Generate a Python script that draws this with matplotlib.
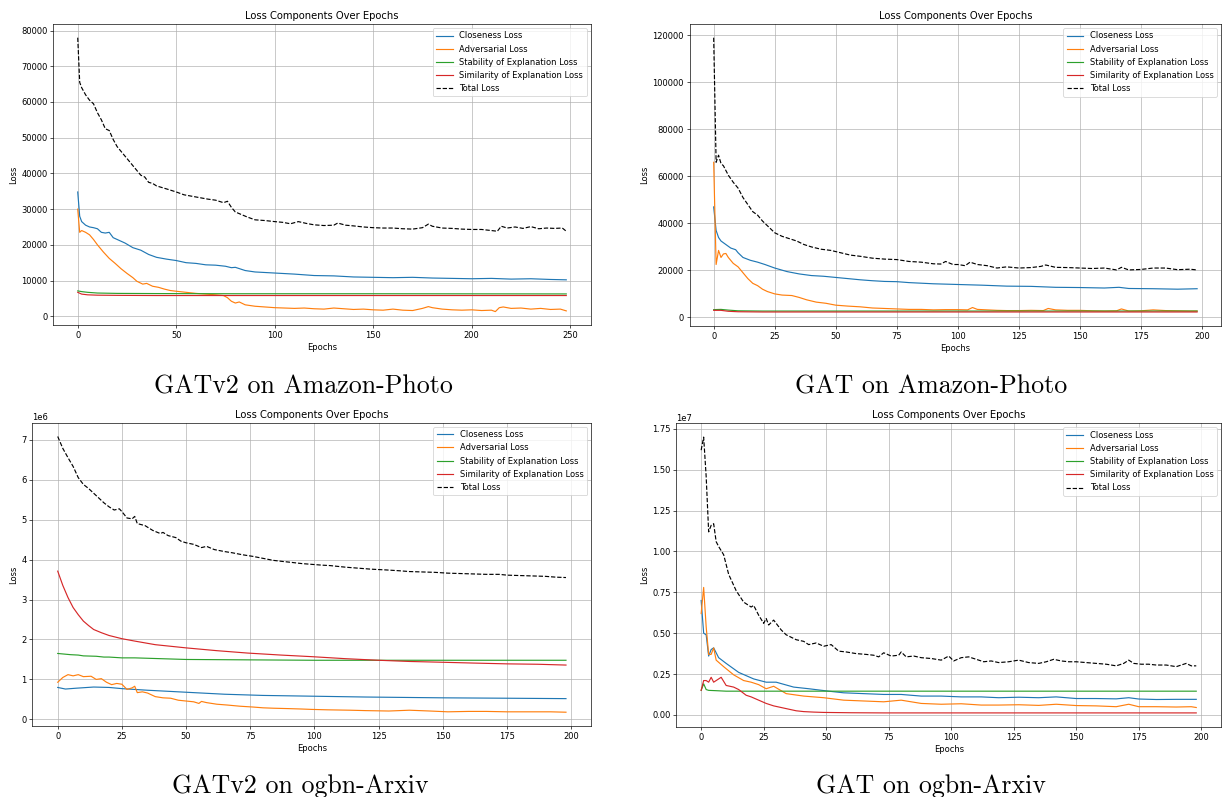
import numpy as np
import matplotlib
matplotlib.use('Agg')
import matplotlib.pyplot as plt

# ---- GATv2 on Amazon-Photo ----
p1_total_ep = [0, 1, 2, 4, 6, 8, 10, 12, 14, 16, 18, 20, 23, 26, 29, 32, 34, 36, 38, 40, 43, 46, 50, 54, 58, 62, 66, 70,
               74, 76, 78, 80, 83, 86, 90, 95, 100, 104, 108, 112, 116, 120, 125, 130, 132, 136, 140, 145, 150, 155, 160,
               165, 170, 175, 178, 180, 185, 190, 195, 200, 205, 210, 213, 215, 218, 222, 226, 230, 234, 238, 242, 246, 248]
p1_total = [78000, 65500, 64000, 62000, 60500, 59500, 57000, 55000, 52500, 52000, 49500, 47500, 45500, 43500, 41500,
            39500, 39000, 37500, 37200, 36500, 36000, 35500, 34800, 34000, 33600, 33200, 32800, 32500, 31800, 32200,
            30500, 29200, 28500, 27800, 27000, 26800, 26500, 26300, 25900, 26500, 26000, 25600, 25400, 25500, 26100,
            25500, 25300, 25000, 24800, 24700, 24700, 24500, 24400, 24800, 25800, 25200, 24700, 24600, 24400, 24300,
            24300, 24000, 23800, 25200, 24700, 25000, 24600, 25100, 24500, 24700, 24600, 24700, 23800]
p1_close_ep = [0, 1, 2, 4, 6, 8, 10, 12, 14, 16, 18, 20, 24, 28, 32, 36, 40, 45, 50, 55, 60, 65, 70, 75, 78, 80, 85, 90,
               100, 110, 120, 130, 140, 150, 160, 170, 180, 190, 200, 210, 220, 230, 240, 248]
p1_close = [34800, 28000, 26500, 25500, 25000, 24800, 24500, 23500, 23300, 23500, 22000, 21500, 20500, 19200, 18500,
            17300, 16500, 16000, 15600, 15000, 14800, 14400, 14300, 14000, 13600, 13700, 12800, 12400, 12100, 11800,
            11400, 11300, 11000, 10900, 10800, 10900, 10700, 10600, 10500, 10600, 10400, 10500, 10300, 10200]
p1_adv_ep = [0, 1, 2, 4, 6, 8, 10, 13, 16, 19, 22, 25, 28, 30, 33, 35, 38, 41, 44, 47, 50, 55, 60, 65, 70, 74, 76, 78,
             80, 82, 85, 90, 95, 100, 105, 110, 115, 120, 125, 130, 135, 140, 145, 150, 155, 160, 165, 170, 175, 178,
             180, 185, 190, 195, 200, 205, 210, 212, 214, 216, 220, 225, 230, 235, 240, 245, 248]
p1_adv = [30000, 23500, 24000, 23500, 22800, 21500, 20000, 18000, 16200, 14800, 13300, 12000, 10800, 9800, 9000, 9200,
          8400, 8100, 7600, 7200, 7000, 6700, 6400, 6200, 6000, 5800, 5200, 4200, 3700, 4000, 3200, 2800, 2600, 2400,
          2300, 2200, 2300, 2100, 2000, 2300, 2100, 1900, 2000, 1800, 1700, 2000, 1700, 1600, 2200, 2700, 2400, 2000,
          1800, 1700, 1800, 1600, 1700, 1300, 2400, 2600, 2200, 2300, 2000, 2200, 1900, 2000, 1500]
p1_stab_ep = [0, 2, 5, 10, 20, 40, 80, 150, 248]
p1_stab = [7100, 6900, 6700, 6500, 6400, 6350, 6300, 6300, 6250]
p1_sim_ep = [0, 2, 5, 10, 20, 40, 80, 150, 248]
p1_sim = [6700, 6200, 6000, 5900, 5850, 5800, 5800, 5800, 5800]

# ---- GAT on Amazon-Photo ----
p2_total_ep = [0, 1, 2, 3, 4, 6, 8, 10, 12, 14, 16, 18, 20, 22, 25, 28, 31, 34, 37, 40, 44, 48, 52, 56, 60, 65, 70, 75,
               80, 85, 90, 93, 95, 98, 100, 103, 105, 108, 112, 116, 120, 125, 130, 134, 136, 140, 145, 150, 155, 160,
               165, 167, 170, 175, 180, 185, 190, 195, 198]
p2_total = [119000, 66000, 69000, 65500, 64500, 60500, 57500, 55000, 51000, 48000, 45000, 43500, 41000, 39000, 36000,
            34500, 33500, 32500, 31000, 30000, 29000, 28500, 27500, 26500, 26000, 25200, 24800, 24600, 23800, 23500,
            22800, 22700, 23800, 22500, 22500, 22000, 23500, 22500, 22000, 21000, 21500, 21000, 21200, 21700, 22300,
            21300, 21200, 21000, 20800, 21000, 20200, 21300, 20200, 20400, 21000, 21000, 20300, 20500, 20200]
p2_close_ep = [0, 1, 2, 3, 5, 7, 9, 10, 12, 15, 18, 21, 25, 30, 35, 40, 45, 50, 55, 60, 65, 70, 75, 80, 90, 100, 110,
               120, 130, 140, 150, 160, 166, 170, 180, 190, 198]
p2_close = [47000, 37000, 34000, 32500, 31000, 29500, 28800, 27500, 25500, 24300, 23500, 22500, 21000, 19500, 18500,
            17800, 17500, 17000, 16500, 16000, 15600, 15300, 15200, 14800, 14300, 14000, 13700, 13300, 13200, 12800,
            12700, 12500, 12800, 12300, 12200, 12000, 12200]
p2_adv_ep = [0, 1, 2, 3, 4, 5, 6, 8, 10, 12, 14, 16, 18, 20, 22, 25, 28, 32, 35, 38, 42, 46, 50, 55, 60, 65, 70, 75, 80,
             85, 90, 95, 100, 104, 106, 108, 112, 116, 120, 125, 130, 135, 137, 140, 145, 150, 155, 160, 165, 167, 170,
             175, 180, 185, 190, 195, 198]
p2_adv = [66000, 22500, 28500, 25500, 27000, 27200, 25500, 23000, 21500, 19000, 16500, 14500, 13500, 12000, 11000,
          10000, 9500, 9300, 8500, 7500, 6500, 6000, 5200, 4800, 4500, 4000, 3800, 3600, 3400, 3400, 3200, 3300, 3300,
          3200, 4200, 3400, 3200, 3000, 2900, 2900, 3000, 2900, 3800, 3200, 3000, 3000, 2800, 2700, 2800, 3600, 2700,
          2800, 3200, 2900, 2800, 2700, 2700]
p2_stab_ep = [0, 3, 6, 10, 20, 50, 100, 198]
p2_stab = [3300, 3400, 3100, 2800, 2700, 2700, 2700, 2700]
p2_sim_ep = [0, 3, 6, 10, 20, 50, 100, 198]
p2_sim = [3000, 3000, 2600, 2400, 2300, 2300, 2300, 2300]

# ---- GATv2 on ogbn-Arxiv (millions) ----
p3_total_ep = [0, 2, 4, 6, 8, 10, 12, 15, 18, 20, 22, 24, 25, 27, 29, 30, 31, 34, 37, 40, 41, 43, 46, 48, 50, 53, 56,
               58, 61, 65, 68, 72, 76, 80, 84, 88, 91, 95, 99, 103, 106, 112, 118, 122, 128, 133, 137, 142, 147, 152,
               157, 162, 167, 172, 175, 180, 185, 190, 194, 198]
p3_total = [7.08, 6.78, 6.55, 6.33, 6.05, 5.88, 5.78, 5.6, 5.42, 5.32, 5.24, 5.27, 5.2, 5.04, 5.02, 5.08, 4.9, 4.85,
            4.73, 4.65, 4.68, 4.6, 4.55, 4.46, 4.42, 4.38, 4.3, 4.33, 4.25, 4.2, 4.17, 4.12, 4.08, 4.03, 3.98, 3.95,
            3.93, 3.9, 3.88, 3.86, 3.85, 3.81, 3.78, 3.76, 3.74, 3.72, 3.70, 3.69, 3.68, 3.66, 3.65, 3.64, 3.63, 3.63,
            3.61, 3.6, 3.59, 3.58, 3.56, 3.55]
p3_close_ep = [0, 3, 7, 14, 20, 25, 35, 50, 65, 80, 100, 120, 150, 175, 198]
p3_close = [0.8, 0.76, 0.78, 0.81, 0.8, 0.77, 0.73, 0.68, 0.63, 0.6, 0.58, 0.56, 0.54, 0.53, 0.52]
p3_adv_ep = [0, 2, 4, 6, 8, 10, 13, 15, 17, 19, 21, 23, 25, 27, 29, 30, 31, 33, 35, 38, 41, 44, 47, 50, 53, 55, 56, 58,
             62, 66, 71, 76, 80, 84, 90, 95, 99, 105, 114, 120, 129, 137, 145, 152, 160, 167, 175, 185, 192, 198]
p3_adv = [0.93, 1.05, 1.12, 1.09, 1.12, 1.07, 1.08, 1.0, 1.02, 0.93, 0.87, 0.9, 0.88, 0.75, 0.79, 0.83, 0.67, 0.69,
          0.66, 0.57, 0.54, 0.53, 0.48, 0.46, 0.44, 0.4, 0.45, 0.42, 0.38, 0.36, 0.33, 0.31, 0.29, 0.28, 0.27, 0.26,
          0.25, 0.24, 0.23, 0.22, 0.21, 0.23, 0.21, 0.19, 0.2, 0.2, 0.19, 0.19, 0.19, 0.18]
p3_stab_ep = [0, 5, 8, 10, 15, 18, 20, 25, 30, 40, 50, 75, 100, 150, 198]
p3_stab = [1.65, 1.62, 1.61, 1.59, 1.58, 1.56, 1.56, 1.54, 1.54, 1.52, 1.50, 1.49, 1.48, 1.48, 1.48]
p3_sim_ep = [0, 2, 4, 6, 8, 10, 12, 14, 17, 20, 25, 30, 38, 50, 62, 74, 87, 99, 112, 125, 137, 150, 162, 175, 187, 198]
p3_sim = [3.71, 3.35, 3.05, 2.8, 2.62, 2.46, 2.35, 2.25, 2.17, 2.1, 2.02, 1.96, 1.87, 1.79, 1.72, 1.66, 1.61, 1.57,
          1.52, 1.48, 1.45, 1.43, 1.41, 1.39, 1.38, 1.36]

# ---- GAT on ogbn-Arxiv (x1e7) ----
p4_total_ep = [0, 1, 2, 3, 4, 5, 6, 7, 9, 11, 14, 17, 20, 21, 23, 25, 26, 27, 29, 32, 34, 38, 41, 43, 46, 49, 52, 55,
               58, 62, 66, 69, 71, 73, 76, 79, 80, 82, 85, 88, 92, 96, 99, 101, 104, 107, 110, 113, 116, 119, 123, 127,
               131, 135, 138, 141, 144, 147, 150, 154, 158, 162, 166, 169, 171, 173, 176, 179, 182, 186, 190, 194, 196,
               198]
p4_total = [1.62, 1.70, 1.46, 1.12, 1.16, 1.17, 1.06, 1.03, 0.98, 0.86, 0.76, 0.69, 0.66, 0.67, 0.61, 0.56, 0.59, 0.55,
            0.58, 0.52, 0.49, 0.46, 0.45, 0.43, 0.44, 0.42, 0.43, 0.39, 0.385, 0.375, 0.37, 0.365, 0.355, 0.38, 0.36,
            0.365, 0.385, 0.355, 0.36, 0.35, 0.345, 0.335, 0.36, 0.33, 0.35, 0.355, 0.34, 0.325, 0.33, 0.32, 0.325,
            0.335, 0.32, 0.315, 0.325, 0.34, 0.33, 0.325, 0.325, 0.32, 0.315, 0.31, 0.30, 0.315, 0.335, 0.315, 0.31,
            0.31, 0.305, 0.305, 0.295, 0.315, 0.30, 0.30]
p4_close_ep = [0, 1, 2, 3, 4, 5, 7, 10, 15, 21, 26, 30, 37, 43, 51, 57, 65, 73, 80, 88, 96, 104, 112, 119, 127, 135,
               142, 150, 158, 166, 171, 175, 182, 190, 198]
p4_close = [0.70, 0.50, 0.49, 0.36, 0.40, 0.41, 0.35, 0.315, 0.26, 0.22, 0.20, 0.20, 0.17, 0.16, 0.145, 0.135, 0.13,
            0.125, 0.125, 0.115, 0.115, 0.11, 0.11, 0.105, 0.108, 0.105, 0.11, 0.10, 0.10, 0.098, 0.105, 0.097, 0.094,
            0.095, 0.095]
p4_adv_ep = [0, 1, 2, 3, 4, 5, 6, 9, 13, 17, 20, 23, 26, 29, 34, 41, 49, 57, 65, 73, 80, 88, 96, 104, 112, 119, 127,
             135, 142, 150, 158, 166, 171, 175, 182, 190, 196, 198]
p4_adv = [0.62, 0.78, 0.54, 0.37, 0.37, 0.41, 0.335, 0.295, 0.245, 0.21, 0.20, 0.185, 0.16, 0.175, 0.13, 0.115, 0.105,
          0.09, 0.085, 0.08, 0.09, 0.07, 0.065, 0.068, 0.06, 0.06, 0.062, 0.058, 0.065, 0.057, 0.055, 0.05, 0.065,
          0.05, 0.05, 0.048, 0.05, 0.045]
p4_stab_ep = [0, 1, 2, 3, 6, 10, 50, 198]
p4_stab = [0.15, 0.19, 0.155, 0.15, 0.148, 0.145, 0.145, 0.145]
p4_sim_ep = [0, 1, 2, 3, 4, 5, 6, 8, 10, 13, 15, 18, 20, 23, 26, 29, 32, 35, 38, 41, 45, 49, 60, 73, 100, 150, 198]
p4_sim = [0.15, 0.21, 0.21, 0.20, 0.23, 0.20, 0.21, 0.23, 0.18, 0.17, 0.155, 0.12, 0.11, 0.09, 0.07, 0.055, 0.045,
          0.035, 0.025, 0.02, 0.017, 0.015, 0.013, 0.012, 0.012, 0.012, 0.012]

captions = ['GATv2 on Amazon-Photo', 'GAT on Amazon-Photo', 'GATv2 on ogbn-Arxiv', 'GAT on ogbn-Arxiv']
labels = ['Closeness Loss', 'Adversarial Loss', 'Stability of Explanation Loss',
          'Similarity of Explanation Loss', 'Total Loss']

panels = [
    (1, [(p1_close_ep, p1_close), (p1_adv_ep, p1_adv), (p1_stab_ep, p1_stab), (p1_sim_ep, p1_sim),
         (p1_total_ep, p1_total)]),
    (1, [(p2_close_ep, p2_close), (p2_adv_ep, p2_adv), (p2_stab_ep, p2_stab), (p2_sim_ep, p2_sim),
         (p2_total_ep, p2_total)]),
    (1e6, [(p3_close_ep, p3_close), (p3_adv_ep, p3_adv), (p3_stab_ep, p3_stab), (p3_sim_ep, p3_sim),
           (p3_total_ep, p3_total)]),
    (1e7, [(p4_close_ep, p4_close), (p4_adv_ep, p4_adv), (p4_stab_ep, p4_stab), (p4_sim_ep, p4_sim),
           (p4_total_ep, p4_total)]),
]

# axes boxes in pixels: left, top, right, bottom
boxes = [(53.3, 24, 590.7, 325.3), (689.5, 24, 1221.3, 325.7),
         (32.3, 422.7, 591.4, 726), (676.4, 423.3, 1221, 726.7)]
cap_pos = [(303, 393), (931, 393), (300, 793), (931, 793)]

W, H = 1222, 797
DPI = 60
fig = plt.figure(figsize=(W / DPI, H / DPI), dpi=DPI)

styles = [dict(color='#1f77b4'), dict(color='#ff7f0e'), dict(color='#2ca02c'),
          dict(color='#d62728'), dict(color='black', ls='--')]

for (scale, series), (l, t, r, b), cap, (cx, cy) in zip(panels, boxes, captions, cap_pos):
    ax = fig.add_axes([l / W, 1 - b / H, (r - l) / W, (b - t) / H])
    for (ep, vals), lab, st in zip(series, labels, styles):
        ax.plot(ep, np.array(vals) * scale, label=lab, lw=1.4, **st)
    ax.set_title('Loss Components Over Epochs')
    ax.set_xlabel('Epochs')
    ax.set_ylabel('Loss')
    ax.grid(True)
    ax.legend(loc='upper right')
    fig.text(cx / W, 1 - cy / H, cap, ha='center', va='baseline', family='cmr10', fontsize=31)

fig.savefig('out.png', dpi=DPI)
